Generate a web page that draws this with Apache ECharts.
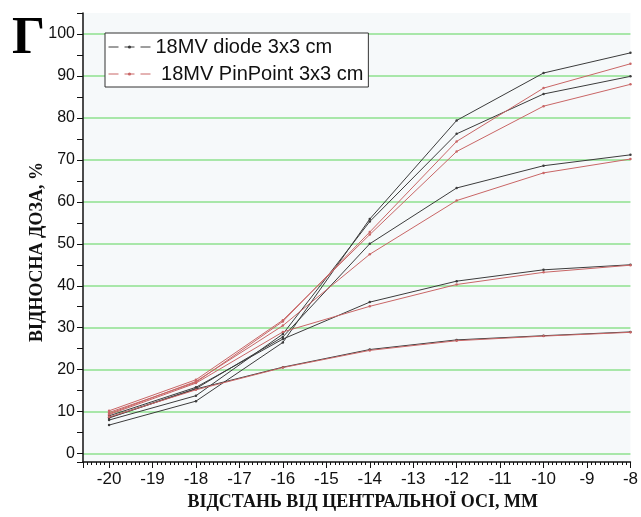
<!DOCTYPE html>
<html>
<head>
<meta charset="utf-8">
<script src="https://cdn.jsdelivr.net/npm/echarts@6/dist/echarts.min.js"></script>
<style>
body { margin: 0; padding: 0; background: #fff; }
#chart { width: 641px; height: 517px; }
</style>
</head>
<body>
<div id="chart"></div>
<script>
// distance from central axis, mm
const xs = [-20, -18, -16, -14, -12, -10, -8]

// 18MV diode 3x3 cm (five profiles)
const diodeA = [6.8, 12.5, 26.5, 55.9, 79.4, 90.7, 95.5]
const diodeB = [8.0, 13.8, 28.5, 55.3, 76.2, 85.7, 89.9]
const diodeC = [8.6, 15.5, 27.8, 50.0, 63.3, 68.6, 71.2]
const diodeD = [9.0, 15.8, 27.3, 36.1, 41.1, 43.8, 45.0]
const diodeE = [8.5, 15.4, 20.6, 24.8, 27.1, 28.1, 29.0]

// 18MV PinPoint 3x3 cm (five profiles)
const pinA = [9.8, 17.0, 31.5, 52.8, 74.4, 87.1, 92.9]
const pinB = [10.2, 17.6, 31.8, 52.2, 72.0, 82.8, 88.0]
const pinC = [9.5, 17.2, 30.5, 47.5, 60.3, 66.9, 70.2]
const pinD = [9.3, 16.8, 29.0, 35.1, 40.3, 43.2, 44.9]
const pinE = [8.7, 15.2, 20.5, 24.6, 26.9, 28.0, 28.9]

const diodeName = '18MV diode 3x3 cm'
const pinName = ' 18MV PinPoint 3x3 cm'

const diodeSets = [diodeA, diodeB, diodeC, diodeD, diodeE]
const pinSets = [pinA, pinB, pinC, pinD, pinE]

const makeSeries = (name, values, color) => ({
  name: name,
  type: 'line',
  data: xs.map((x, i) => [x, values[i]]),
  symbol: 'circle',
  symbolSize: 2.5,
  itemStyle: { color: color },
  lineStyle: { color: color, width: 1 },
  emphasis: { disabled: true },
  z: 3
})

const series = [
  ...diodeSets.map(v => makeSeries(diodeName, v, '#3c3c3c')),
  ...pinSets.map(v => makeSeries(pinName, v, '#c96666'))
]

const chart = echarts.init(document.getElementById('chart'))
chart.setOption({
  animation: false,
  backgroundColor: '#fff',
  grid: {
    left: 83,
    right: 10,
    top: 13,
    bottom: 55,
    show: true,
    backgroundColor: '#f6f9fa',
    borderWidth: 0
  },
  legend: {
    data: [diodeName, pinName],
    orient: 'vertical',
    left: 105,
    top: 33,
    padding: [4, 5, 3, 3],
    itemGap: 7,
    itemWidth: 42,
    itemHeight: 4,
    backgroundColor: '#fff',
    borderColor: '#333',
    borderWidth: 1,
    borderRadius: 0,
    lineStyle: { type: [10, 6], width: 1 },
    textStyle: {
      fontFamily: 'Liberation Sans',
      fontSize: 20,
      color: '#111'
    }
  },
  xAxis: {
    type: 'value',
    min: -20.6,
    max: -8,
    splitNumber: 12,
    name: 'ВІДСТАНЬ ВІД ЦЕНТРАЛЬНОЇ ОСІ, ММ',
    nameLocation: 'middle',
    nameGap: 27,
    nameTextStyle: {
      fontFamily: 'Liberation Serif',
      fontWeight: 'bold',
      fontSize: 18,
      color: '#111',
      padding: [0, 0, 0, 12]
    },
    axisLine: { onZero: false, lineStyle: { color: '#111', width: 1.5 } },
    axisTick: { length: 6, lineStyle: { color: '#111' } },
    minorTick: { show: true, splitNumber: 10, length: 3, lineStyle: { color: '#111' } },
    splitLine: { show: false },
    axisLabel: {
      fontFamily: 'Liberation Sans',
      fontSize: 17,
      color: '#111',
      margin: 9,
      formatter: v => (Number.isInteger(v) ? String(v) : '')
    }
  },
  yAxis: {
    type: 'value',
    min: -2,
    max: 105,
    splitNumber: 10,
    axisLine: { show: true, lineStyle: { color: '#111', width: 1.5 } },
    axisTick: { length: 6, lineStyle: { color: '#111' } },
    minorTick: { show: true, splitNumber: 2, length: 6, lineStyle: { color: '#111' } },
    splitLine: {
      show: true,
      showMinLine: false,
      showMaxLine: false,
      lineStyle: { color: '#8ee08e', width: 1.5 }
    },
    axisLabel: {
      fontFamily: 'Liberation Sans',
      fontSize: 16,
      color: '#111',
      margin: 8,
      formatter: v => (v % 10 === 0 ? String(v) : '')
    }
  },
  graphic: [
    {
      type: 'text',
      left: 12,
      top: 14,
      style: {
        text: 'Г',
        fontFamily: 'Liberation Serif',
        fontWeight: 'bold',
        fontSize: 52,
        fill: '#000'
      }
    },
    {
      type: 'text',
      x: 37,
      y: 252,
      rotation: Math.PI / 2,
      style: {
        text: 'ВІДНОСНА ДОЗА, %',
        fontFamily: 'Liberation Serif',
        fontWeight: 'bold',
        fontSize: 18,
        fill: '#111',
        align: 'center',
        verticalAlign: 'middle'
      }
    }
  ],
  series: series
})
</script>
</body>
</html>
